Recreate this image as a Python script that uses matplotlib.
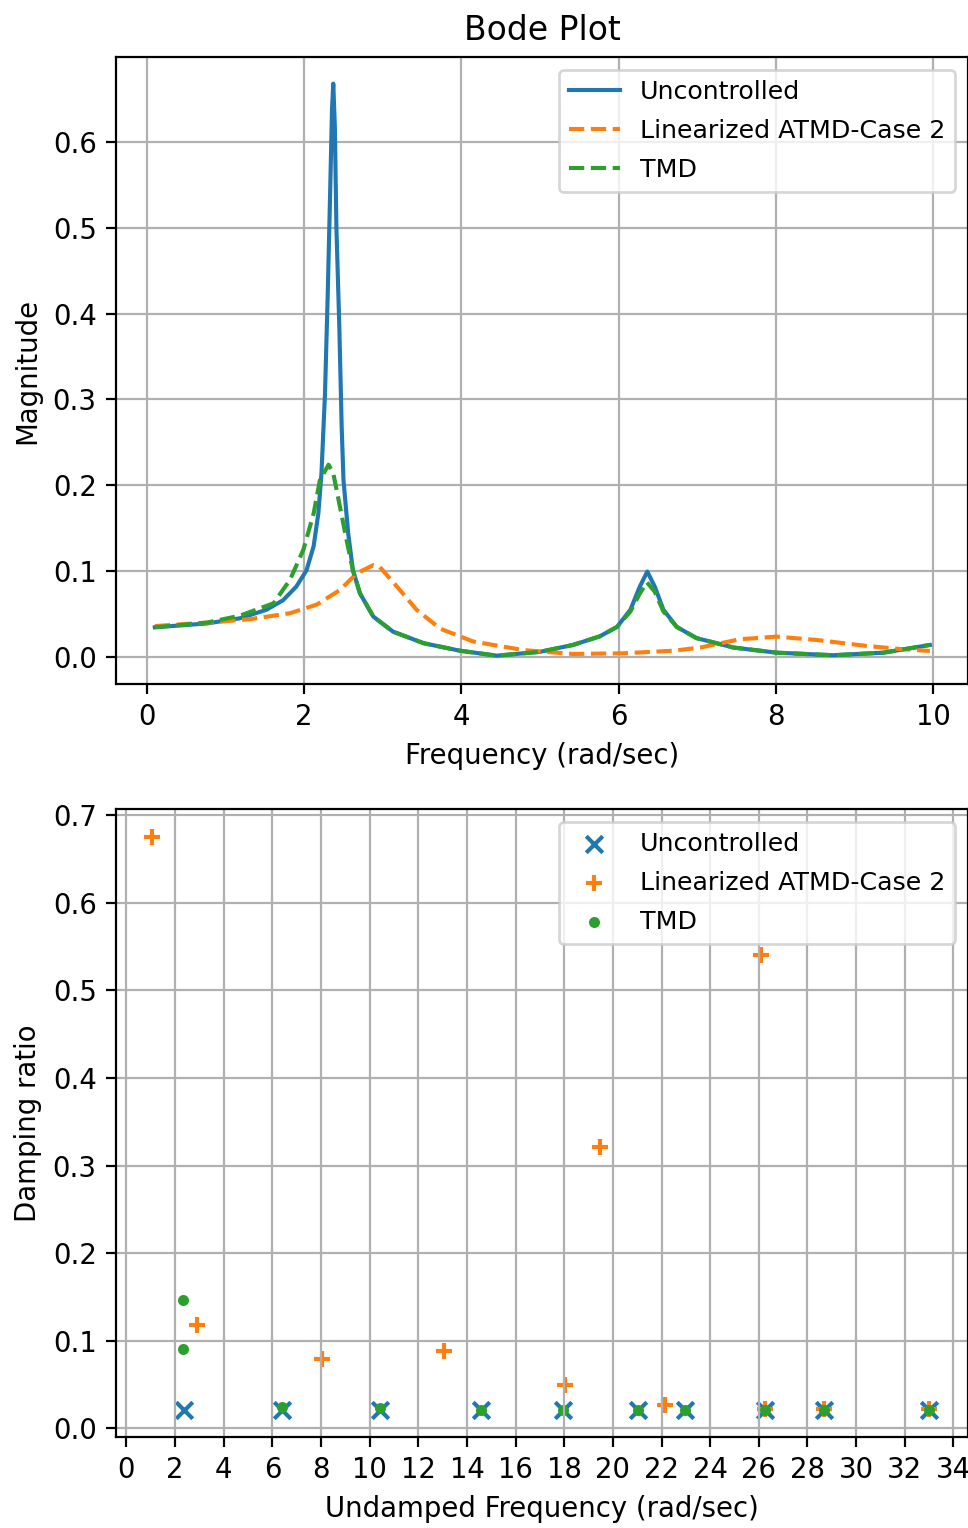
import matplotlib
matplotlib.use("Agg")
import matplotlib.pyplot as plt

# Bode magnitude curves
w_unc = [0.1, 0.76, 1.18, 1.52, 1.73, 1.90, 2.03, 2.12, 2.18, 2.22, 2.265, 2.30, 2.33, 2.354, 2.37,
         2.39, 2.41, 2.447, 2.477, 2.50, 2.56, 2.62, 2.71, 2.88, 3.13, 3.52, 3.98, 4.45, 5.0, 5.42,
         5.76, 5.98, 6.15, 6.27, 6.365, 6.46, 6.57, 6.74, 6.99, 7.46, 8.01, 8.73, 9.37, 9.96]
mag_unc = [0.0346, 0.039, 0.045, 0.055, 0.066, 0.082, 0.101, 0.129, 0.167, 0.214, 0.307, 0.424, 0.540, 0.638, 0.668,
           0.618, 0.50, 0.385, 0.268, 0.206, 0.144, 0.101, 0.074, 0.047, 0.0295, 0.016, 0.0073, 0.0015, 0.006, 0.014,
           0.024, 0.035, 0.055, 0.082, 0.0995, 0.082, 0.055, 0.035, 0.022, 0.011, 0.005, 0.002, 0.005, 0.014]

w_atmd = [0.1, 0.76, 1.31, 1.82, 2.16, 2.455, 2.67, 2.88, 2.96, 3.18, 3.43, 3.73, 4.15, 4.79, 5.42,
          6.06, 6.70, 7.04, 7.54, 8.01, 8.52, 9.16, 9.58, 9.96]
mag_atmd = [0.036, 0.040, 0.044, 0.051, 0.061, 0.078, 0.0975, 0.107, 0.105, 0.082, 0.055, 0.033, 0.018, 0.008, 0.0035,
            0.0043, 0.0073, 0.011, 0.0206, 0.0237, 0.0198, 0.0128, 0.0093, 0.007]

w_tmd = [0.1, 0.76, 1.18, 1.61, 1.82, 1.99, 2.12, 2.20, 2.31, 2.37, 2.455, 2.54, 2.62, 2.71, 2.88,
         3.13, 3.52, 3.98, 4.45, 5.0, 5.42, 5.76, 5.98, 6.15, 6.27, 6.36, 6.46, 6.57, 6.74, 6.99,
         7.46, 8.01, 8.73, 9.37, 9.96]
mag_tmd = [0.0346, 0.040, 0.048, 0.0625, 0.090, 0.125, 0.167, 0.206, 0.224, 0.214, 0.175, 0.136, 0.101, 0.074, 0.047,
           0.0295, 0.016, 0.0073, 0.0015, 0.006, 0.014, 0.024, 0.035, 0.053, 0.074, 0.087, 0.076, 0.053, 0.035, 0.022,
           0.011, 0.005, 0.002, 0.005, 0.014]

# damping ratio vs undamped frequency
wn_unc = [2.38, 6.40, 10.41, 14.58, 17.93, 21.05, 22.95, 26.27, 28.67, 33.0]
zeta_unc = [0.021, 0.021, 0.021, 0.021, 0.021, 0.021, 0.021, 0.021, 0.021, 0.021]

wn_atmd = [1.06, 2.89, 8.04, 13.04, 18.05, 19.47, 22.14, 26.08, 26.27, 28.67, 33.0]
zeta_atmd = [0.675, 0.118, 0.079, 0.0886, 0.049, 0.321, 0.0266, 0.540, 0.022, 0.022, 0.022]

wn_tmd = [2.34, 2.34, 6.38, 10.43, 14.58, 17.93, 21.05, 22.95, 26.27, 28.67, 33.0]
zeta_tmd = [0.146, 0.091, 0.024, 0.023, 0.021, 0.021, 0.021, 0.021, 0.021, 0.021, 0.021]

W, H = 969, 1528
DPI = 198
fig = plt.figure(figsize=(W / DPI, H / DPI), dpi=DPI)


def box(l, t, r, b):
    return [l / W, 1 - b / H, (r - l) / W, (b - t) / H]


ax1 = fig.add_axes(box(116, 57, 968, 684))
ax1.plot(w_unc, mag_unc, label='Uncontrolled')
ax1.plot(w_atmd, mag_atmd, '--', label='Linearized ATMD-Case 2')
ax1.plot(w_tmd, mag_tmd, '--', label='TMD')
ax1.set_xlim(-0.394, 10.445)
ax1.set_ylim(-0.0315, 0.699)
ax1.set_xlabel('Frequency (rad/sec)')
ax1.set_ylabel('Magnitude')
ax1.set_title('Bode Plot')
ax1.grid(True)
ax1.legend(loc='upper right', fontsize=9.2, labelspacing=0.6)

ax2 = fig.add_axes(box(116, 809, 968, 1437))
ax2.scatter(wn_unc, zeta_unc, marker='x', label='Uncontrolled')
ax2.scatter(wn_atmd, zeta_atmd, marker='+', label='Linearized ATMD-Case 2')
ax2.scatter(wn_tmd, zeta_tmd, marker='.', label='TMD')
ax2.set_xticks(range(0, 35, 2))
ax2.set_xlim(-0.43, 34.6)
ax2.set_ylim(-0.0099, 0.707)
ax2.set_xlabel('Undamped Frequency (rad/sec)')
ax2.set_ylabel('Damping ratio')
ax2.grid(True)
ax2.legend(loc='upper right', fontsize=9.2, labelspacing=0.6)

fig.savefig('out.png', dpi=DPI)
